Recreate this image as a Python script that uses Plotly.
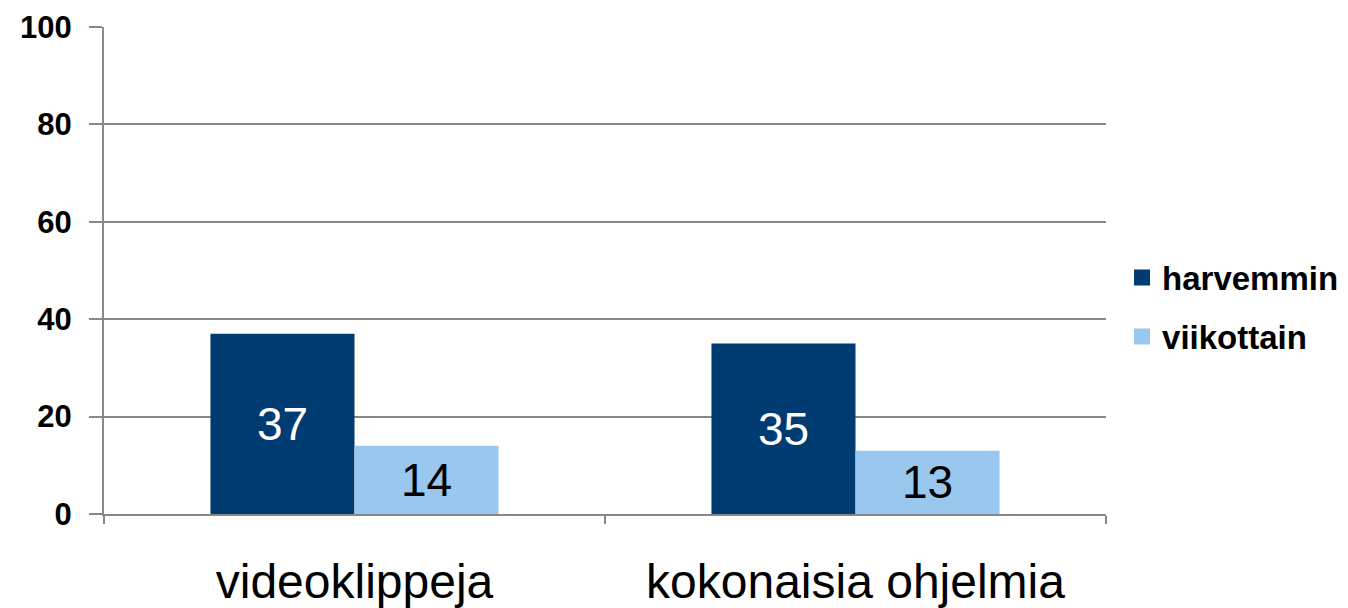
import plotly.graph_objects as go

categories = ["videoklippeja", "kokonaisia ohjelmia"]
harvemmin = [37, 35]
viikottain = [14, 13]
y_ticks = [0, 20, 40, 60, 80, 100]
series_names = ["harvemmin", "viikottain"]
series_colors = ["#003b71", "#99c7ee"]

FONT = "Liberation Sans, Arial, sans-serif"

fig = go.Figure()
fig.add_trace(go.Bar(
    x=categories, y=harvemmin, name=series_names[0], showlegend=False,
    marker=dict(color=series_colors[0], line=dict(width=0)),
    text=harvemmin, textposition="inside", insidetextanchor="middle",
    textfont=dict(size=46, color="white", family=FONT),
))
fig.add_trace(go.Bar(
    x=categories, y=viikottain, name=series_names[1], showlegend=False,
    marker=dict(color=series_colors[1], line=dict(width=0)),
    text=viikottain, textposition="inside", insidetextanchor="middle",
    textfont=dict(size=46, color="black", family=FONT),
))
# legend entries with square swatches
for i, (nm, col) in enumerate(zip(series_names, series_colors)):
    fig.add_trace(go.Scatter(
        x=[None], y=[None], mode="markers", name=nm, legendgroup=nm,
        marker=dict(symbol="square", size=18, color=col),
        showlegend=True,
    ))

fig.update_layout(
    width=1340, height=600,
    margin=dict(l=96, r=242, t=19, b=94, autoexpand=False),
    plot_bgcolor="white", paper_bgcolor="white",
    barmode="group", bargap=0.425, bargroupgap=0,
    font=dict(family=FONT, color="black"),
    uniformtext=dict(mode=False),
    showlegend=True,
    legend=dict(
        x=1.016, xanchor="left", y=0.425, yanchor="middle",
        font=dict(size=33, family=FONT, weight="bold"),
        traceorder="grouped", tracegroupgap=13,
        bgcolor="rgba(0,0,0,0)",
    ),
    xaxis=dict(
        showline=True, linecolor="#888888", linewidth=2,
        ticks="outside", tickson="boundaries", ticklen=8, tickwidth=2, tickcolor="#888888",
        tickfont=dict(size=48, family=FONT),
        ticklabelstandoff=24,
        showgrid=False, fixedrange=True,
    ),
    yaxis=dict(
        range=[0, 100], tickvals=y_ticks,
        showline=True, linecolor="#888888", linewidth=2,
        ticks="outside", ticklen=13, tickwidth=2, tickcolor="#888888",
        showgrid=True, gridcolor="#888888", gridwidth=2,
        tickfont=dict(size=31, family=FONT, weight="bold"),
        ticklabelstandoff=11,
        zeroline=False, fixedrange=True,
    ),
)

fig.write_html("out.html")
